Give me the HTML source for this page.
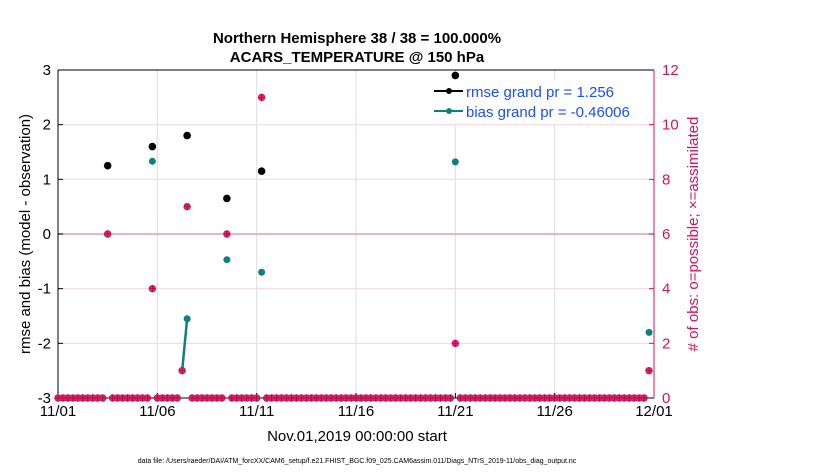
<!DOCTYPE html>
<html><head><meta charset="utf-8"><style>
body{margin:0;background:#fff;}
svg{font-family:"Liberation Sans",sans-serif;}
</style></head><body>
<svg width="830" height="470" xmlns="http://www.w3.org/2000/svg">
<g id="grid"></g>
<g id="axes"></g>
<g>
<rect x="420" y="80" width="232" height="44" fill="#fff"/>
<line x1="434" y1="91" x2="463" y2="91" stroke="#000" stroke-width="2"/>
<circle cx="449" cy="91" r="3" fill="#000"/>
<text x="466" y="97" font-size="15" fill="#1a4dff">rmse grand pr = 1.256</text>
<line x1="434" y1="111" x2="463" y2="111" stroke="#0f8080" stroke-width="2"/>
<circle cx="449" cy="111" r="3" fill="#0f8080"/>
<text x="466" y="117" font-size="15" fill="#1a4dff">bias grand pr = -0.46006</text>
</g>
<g id="marks"></g>
<text x="357" y="43" text-anchor="middle" font-size="15" font-weight="bold">Northern Hemisphere 38 / 38 = 100.000%</text>
<text x="357" y="62" text-anchor="middle" font-size="15" font-weight="bold">ACARS_TEMPERATURE @ 150 hPa</text>
<text x="357" y="441" text-anchor="middle" font-size="15">Nov.01,2019 00:00:00 start</text>
<text transform="translate(30,234) rotate(-90)" text-anchor="middle" font-size="15">rmse and bias (model - observation)</text>
<text transform="translate(698,234) rotate(-90)" text-anchor="middle" font-size="15" fill="#d5135b"># of obs: o=possible; ×=assimilated</text>
<text x="357" y="463" text-anchor="middle" font-size="7">data file: /Users/raeder/DAI/ATM_forcXX/CAM6_setup/f.e21.FHIST_BGC.f09_025.CAM6assim.011/Diags_NTrS_2019-11/obs_diag_output.nc</text>
</svg>
<script>
const xTickLabels = ["11/01","11/06","11/11","11/16","11/21","11/26","12/01"];
const xTickDays = [0,5,10,15,20,25,30];
const leftTicks = [-3,-2,-1,0,1,2,3];
const rightTicks = [0,2,4,6,8,10,12];
const rmseDays = [2.5,4.75,6.5,8.5,10.25,20];
const rmseVals = [1.25,1.6,1.8,0.65,1.15,2.9];
const biasSegments = [[2.5],[4.75],[6.25,6.5],[8.5],[10.25],[20],[29.75]];
const biasVals = [[0],[1.33],[-2.5,-1.55],[-0.47],[-0.7],[1.32],[-1.8]];
const obsDays = [2.5,4.75,6.25,6.5,8.5,10.25,20,29.75];
const obsCounts = [6,4,1,7,6,11,2,1];
const binStep = 0.25;
const binCount = 120;

const L=58,R=654,T=70,B=398;
const xS=d=>L+d/30*(R-L);
const yL=v=>B-(v+3)/6*(B-T);
const yR=v=>B-v/12*(B-T);
const NS="http://www.w3.org/2000/svg";
function mk(parent,tag,attrs){const e=document.createElementNS(NS,tag);for(const k in attrs)e.setAttribute(k,attrs[k]);document.getElementById(parent).appendChild(e);return e;}

xTickDays.forEach((d,i)=>{
 if(d>0&&d<30){const g=mk('grid','line',{x1:xS(d),x2:xS(d),y1:T,y2:B,stroke:'#ddd','stroke-width':1});
 
 }
 const t=mk('axes','text',{x:xS(d),y:B+18,'text-anchor':'middle','font-size':15});t.textContent=xTickLabels[i];
 
 
 const tk=mk('axes','line',{x1:xS(d),x2:xS(d),y1:B,y2:B-5,stroke:'#000'});
 
 
});
rightTicks.forEach(v=>{
 if(v>0&&v<12){const g=mk('grid','line',{x1:L,x2:R,y1:yR(v),y2:yR(v),stroke:v==6?'#d9a0b4':'#f6d6e1','stroke-width':v==6?1.5:1});
 
 }
 const t=mk('axes','text',{x:R+8,y:yR(v)+5,'font-size':15,fill:'#d5135b'});t.textContent=v;
 
 
 const tk=mk('axes','line',{x1:R,x2:R-5,y1:yR(v),y2:yR(v),stroke:'#d5135b'});
 
 
});
leftTicks.forEach(v=>{
 const t=mk('axes','text',{x:L-7,y:yL(v)+5,'text-anchor':'end','font-size':15});t.textContent=v;
 
 
 const tk=mk('axes','line',{x1:L,x2:L+5,y1:yL(v),y2:yL(v),stroke:'#000'});
 
 
});
let a=mk('axes','line',{x1:L,x2:L,y1:T,y2:B,stroke:'#000'});


a=mk('axes','line',{x1:L,x2:R,y1:B,y2:B,stroke:'#000'});


a=mk('axes','line',{x1:R,x2:R,y1:T,y2:B,stroke:'#d5135b'});


a=mk('axes','line',{x1:L,x2:R,y1:T,y2:T,stroke:'#000'});



function obsMarker(cx,cy){
 const g=document.createElementNS(NS,'g');
 
 
 document.getElementById('marks').appendChild(g);
 const c=document.createElementNS(NS,'circle');c.setAttribute('cx',cx);c.setAttribute('cy',cy);c.setAttribute('r',3.2);c.setAttribute('fill','#e8246f');c.setAttribute('stroke','#d0145c');g.appendChild(c);
 const p=document.createElementNS(NS,'path');p.setAttribute('d',`M${cx-3} ${cy}H${cx+3}M${cx} ${cy-3}V${cy+3}`);p.setAttribute('stroke','#8a0c38');p.setAttribute('stroke-width',0.7);g.appendChild(p);
}
for(let i=0;i<binCount;i++){
 const d=i*binStep;
 if(obsDays.some(od=>Math.abs(od-d)<1e-6))continue;
 obsMarker(xS(d),yR(0));
}
biasSegments.forEach((seg,si)=>{
 if(seg.length>1){const pl=mk('marks','polyline',{points:seg.map((d,j)=>xS(d)+','+yL(biasVals[si][j])).join(' '),fill:'none',stroke:'#0f8080','stroke-width':2.5});
 
 }
 seg.forEach((d,j)=>{const c=mk('marks','circle',{cx:xS(d),cy:yL(biasVals[si][j]),r:3.5,fill:'#0f8080'});
 
 });
});
rmseDays.forEach((d,i)=>{
 const c=mk('marks','circle',{cx:xS(d),cy:yL(rmseVals[i]),r:3.8,fill:'#000'});
 
 
});
obsDays.forEach((d,i)=>obsMarker(xS(d),yR(obsCounts[i])));
</script>
</body></html>
